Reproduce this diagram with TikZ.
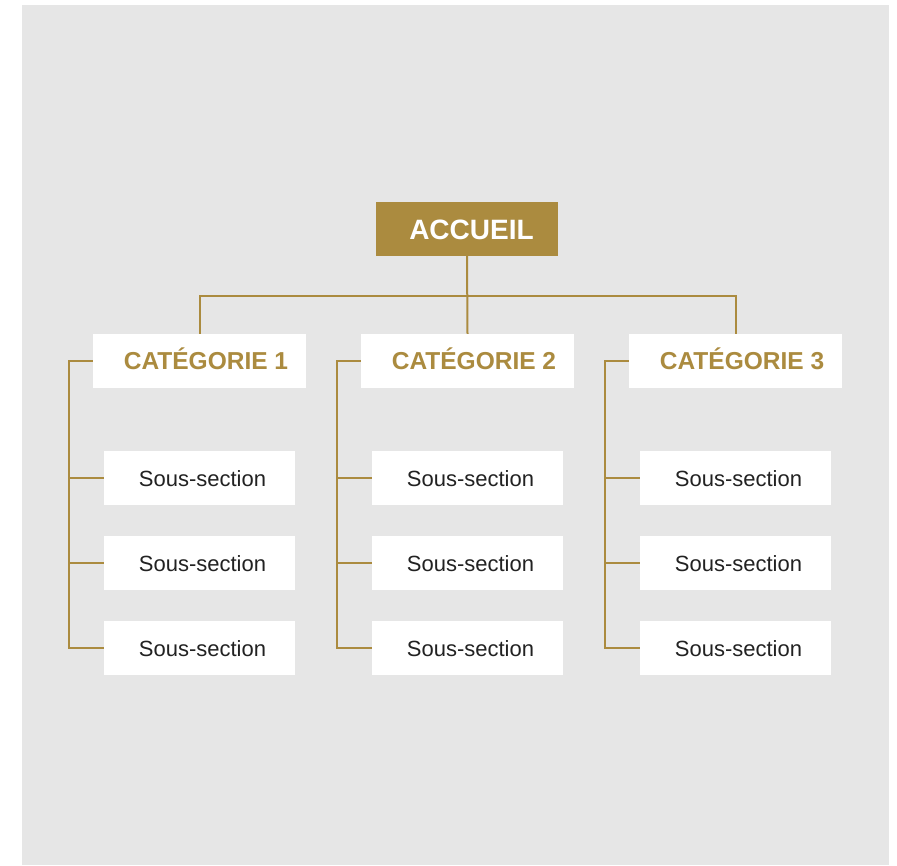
\documentclass[tikz,border=0pt]{standalone}
\usepackage{fontspec}
\setmainfont{Liberation Sans}
\usepackage{tikz}
\usepackage{xcolor}
\definecolor{gold}{RGB}{171,139,63}
\definecolor{backgray}{RGB}{230,230,230}
\definecolor{subtext}{RGB}{34,34,34}
\tikzset{
    link/.style={gold, line width=2pt},
    homebox/.style={fill=gold, text=white, inner sep=0pt, minimum width=182pt, minimum height=54pt,
        font=\fontsize{28}{30}\selectfont\bfseries, text height=20pt, text depth=0pt,
        execute at begin node={\hspace*{9pt}}},
    catbox/.style={fill=white, text=gold, inner sep=0pt, minimum width=213pt, minimum height=54pt,
        font=\fontsize{24.5}{26}\selectfont\bfseries, text height=17.5pt, text depth=0pt,
        execute at begin node={\hspace*{13pt}}},
    subbox/.style={fill=white, text=subtext, inner sep=0pt, minimum width=191pt, minimum height=54pt,
        font=\fontsize{22}{24}\selectfont, text height=16pt, text depth=0pt,
        execute at begin node={\hspace*{6pt}}}
}

\begin{document}
\begin{tikzpicture}[x=1pt, y=-1pt]
                \useasboundingbox (0,0) rectangle (897,865);
                \fill[backgray] (22,5) rectangle (889,865);
                \node[homebox] (accueil) at (467,229) {ACCUEIL};
                \foreach \i in {1,2,3} {
                        \node[catbox] (cat\i) at ({199.5+268*(\i-1)},361) {CATÉGORIE \i};
                        \foreach \j in {1,2,3} {
                                \node[subbox] (sub\i\j) at ({199.5+268*(\i-1)},{478+85*(\j-1)}) {Sous-section};
                            }
                    }
                \coordinate (bus) at (467,296);
                \draw[link] (accueil.south) -- (cat2.north);
                \draw[link] (cat1.north) |- (bus) -| (cat3.north);
                \foreach \i in {1,2,3} {
                        \coordinate (rail\i) at ([xshift=-24pt]cat\i.west);
                        \draw[link] (cat\i.west) -- (rail\i) |- (sub\i3.west);
                        \foreach \j in {1,2} {
                                \draw[link] (rail\i |- sub\i\j.west) -- (sub\i\j.west);
                            }
                    }
            \end{tikzpicture}
\end{document}
